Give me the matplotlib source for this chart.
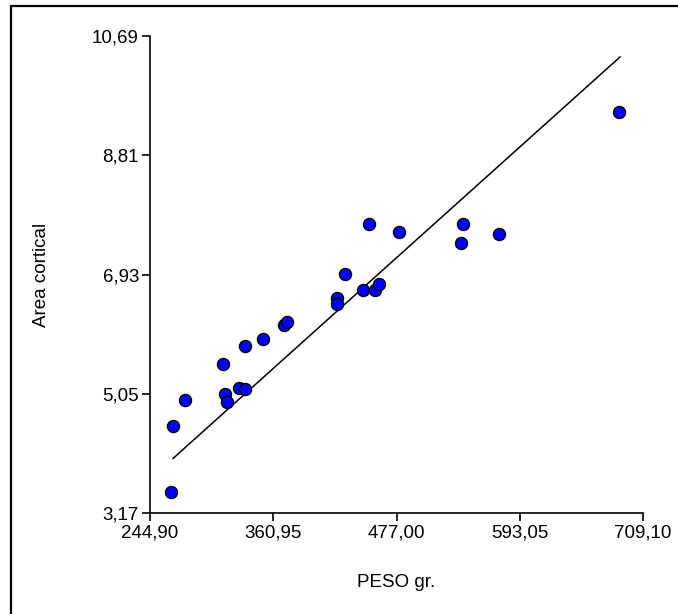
import matplotlib
matplotlib.use("Agg")
import matplotlib.pyplot as plt
from matplotlib.patches import Rectangle

plt.rcParams['font.family'] = ['Liberation Sans', 'DejaVu Sans']

# Data
peso = [264.7, 266.3, 277.9, 313.6, 315.5, 317.4, 328.7, 334.4, 334.4, 351.3,
        371.4, 373.9, 420.9, 420.9, 428.5, 445.5, 451.1, 456.8, 460.5, 479.4,
        537.7, 539.6, 573.5, 686.5]
area = [3.50, 4.54, 4.95, 5.52, 5.05, 4.92, 5.14, 5.12, 5.80, 5.92,
        6.14, 6.18, 6.56, 6.46, 6.94, 6.69, 7.73, 6.69, 6.78, 7.60,
        7.42, 7.73, 7.57, 9.49]
trend_x = [266.6, 687.5]
trend_y = [4.03, 10.36]

x_ticks = [244.90, 360.95, 477.00, 593.05, 709.10]
y_ticks = [3.17, 5.05, 6.93, 8.81, 10.69]

W, H = 678, 614
fig = plt.figure(figsize=(W / 100, H / 100), dpi=100)
ax = fig.add_axes([150 / W, (H - 513) / H, (643 - 150) / W, (513 - 36) / H])

ax.plot(trend_x, trend_y, color='black', lw=1.1, zorder=2)
ax.scatter(peso, area, s=75, c='#0000ff', edgecolors='black', linewidths=1.0,
           zorder=3, clip_on=False)

ax.set_xlim(x_ticks[0], x_ticks[-1])
ax.set_ylim(y_ticks[0], y_ticks[-1])
ax.set_xticks(x_ticks)
ax.set_yticks(y_ticks)
ax.set_xticklabels([f"{v:.2f}".replace('.', ',') for v in x_ticks])
ax.set_yticklabels([f"{v:.2f}".replace('.', ',') for v in y_ticks])
ax.tick_params(direction='out', length=6, width=1.2, labelsize=13.5, pad=2)
for s in ['top', 'right']:
    ax.spines[s].set_visible(False)
for s in ['left', 'bottom']:
    ax.spines[s].set_linewidth(1.2)

ax.set_xlabel('PESO gr.', fontsize=13.5, labelpad=24)
ax.set_ylabel('Area cortical', fontsize=13.5, labelpad=30)

fig.patches.append(Rectangle((11 / W, -0.1), 1.2, (H - 6) / H + 0.1,
                             transform=fig.transFigure, fill=False,
                             edgecolor='black', lw=1.6))

fig.savefig('out.png', dpi=100)
